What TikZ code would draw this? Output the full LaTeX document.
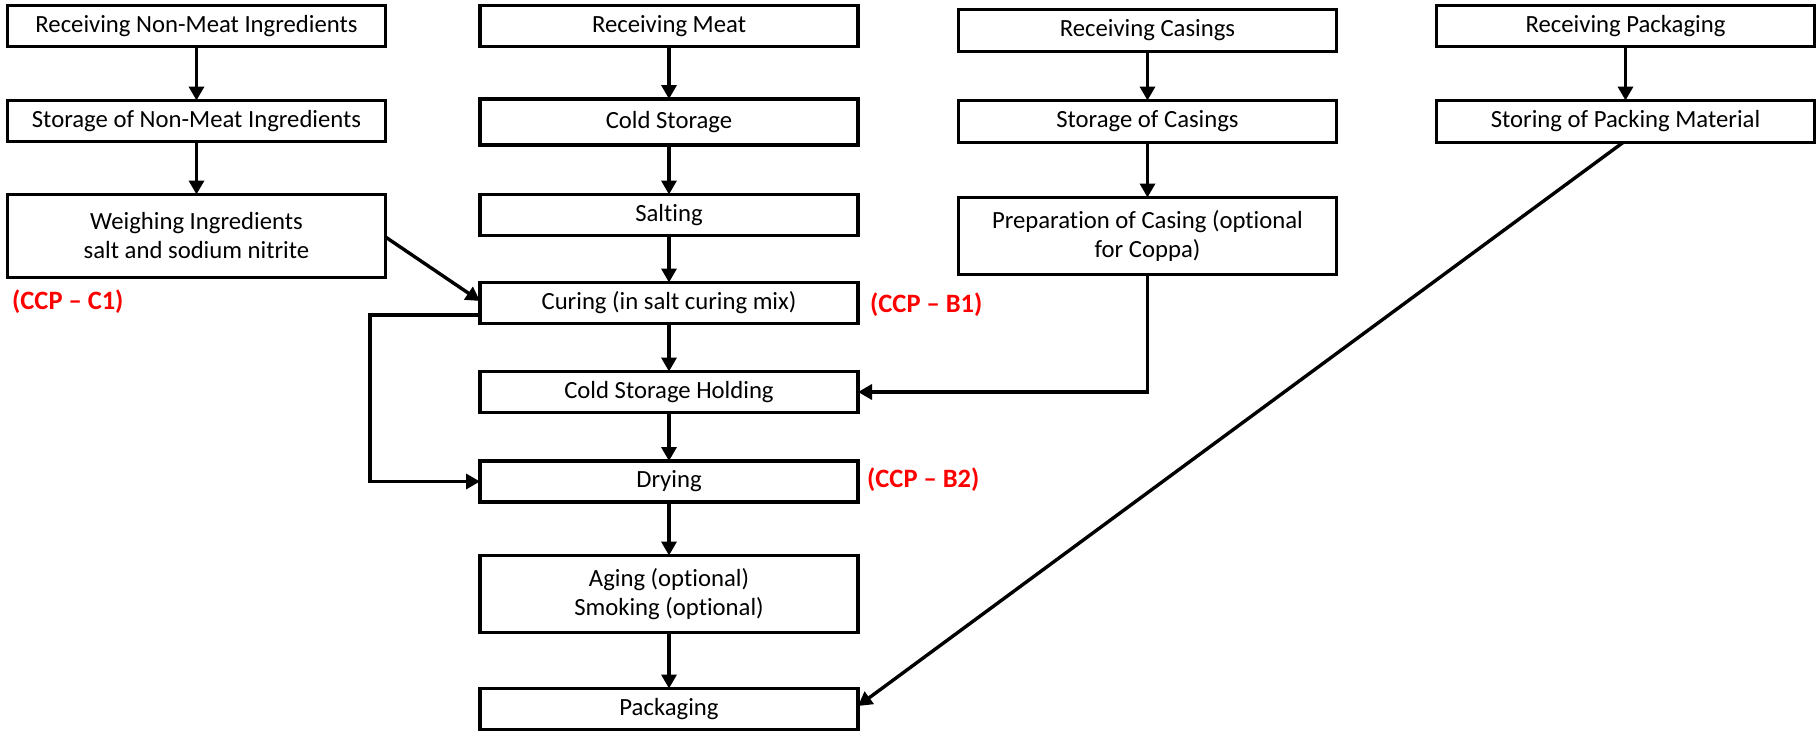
\documentclass[tikz,border=0pt]{standalone}
\usepackage{fontspec}
\setmainfont[Ligatures={NoCommon}]{Carlito}
\usetikzlibrary{arrows.meta,calc}
\definecolor{ccpred}{RGB}{255,0,0}
\tikzset{
  box/.style={draw=black, line width=3.8pt, minimum width=378pt, inner sep=0pt, outer sep=0pt,
    align=center, font=\fontsize{24.7}{29}\selectfont},
  flow/.style={draw=black, line width=3.4pt, -{Triangle[length=14pt,width=15pt]}},
  ccp/.style={text=ccpred, inner sep=0pt, anchor=west, font=\fontsize{26.5}{30}\selectfont\bfseries}
}
\begin{document}
\begin{tikzpicture}[x=1pt,y=-1pt]
\useasboundingbox (0,0) rectangle (1818,736);
% left column
\node[box, minimum height=41pt] (A1) at (196.5,26) {Receiving Non-Meat Ingredients};
\node[box, minimum height=41pt] (A2) at (196.5,121) {Storage of Non-Meat Ingredients};
\node[box, minimum height=83pt] (A3) at (196.5,236) {Weighing Ingredients\\salt and sodium nitrite};
% middle column
\node[box, minimum height=41pt] (B1) at (669,26) {Receiving Meat};
\node[box, minimum height=46pt] (B2) at (669,122) {Cold Storage};
\node[box, minimum height=41pt] (B3) at (669,215) {Salting};
\node[box, minimum height=41pt] (B4) at (669,303) {Curing (in salt curing mix)};
\node[box, minimum height=41pt] (B5) at (669,392) {Cold Storage Holding};
\node[box, minimum height=41pt] (B6) at (669,481.5) {Drying};
\node[box, minimum height=77pt] (B7) at (669,594) {Aging (optional)\\Smoking (optional)};
\node[box, minimum height=41pt] (B8) at (669,709) {Packaging};
% casings column
\node[box, minimum height=42pt] (C1) at (1147.5,30.5) {Receiving Casings};
\node[box, minimum height=42pt] (C2) at (1147.5,121.5) {Storage of Casings};
\node[box, minimum height=77pt] (C3) at (1147.5,236) {Preparation of Casing (optional\\for Coppa)};
% packaging column
\node[box, minimum height=41pt] (D1) at (1625.5,26) {Receiving Packaging};
\node[box, minimum height=42pt] (D2) at (1625.5,121.5) {Storing of Packing Material};
% CCP labels
\node[ccp] (ccpC1) at (12,302) {(CCP – C1)};
\node[ccp] (ccpB1) at (870,305) {(CCP – B1)};
\node[ccp] (ccpB2) at (867,480) {(CCP – B2)};
% connectors
\draw[flow] (A1) -- (A2);
\draw[flow] (A2) -- (A3);
\draw[flow] ([yshift=-1pt]A3.east) -- ([yshift=2pt]B4.west);
\draw[flow] (B1) -- (B2);
\draw[flow] (B2) -- (B3);
\draw[flow] (B3) -- (B4);
\draw[flow] (B4) -- (B5);
\draw[flow] (B5) -- (B6);
\draw[flow] (B6) -- (B7);
\draw[flow] (B7) -- (B8);
\coordinate (loopL) at (370,315);
\draw[flow] ([yshift=-12pt]B4.west) -- (loopL) |- (B6.west);
\draw[flow] (C1) -- (C2);
\draw[flow] (C2) -- (C3);
\draw[flow] (C3.south) |- (B5.east);
\draw[flow] (D1) -- (D2);
\draw[flow] ([xshift=-2.5pt]D2.south) -- ([yshift=3pt]B8.east);
\end{tikzpicture}
\end{document}
